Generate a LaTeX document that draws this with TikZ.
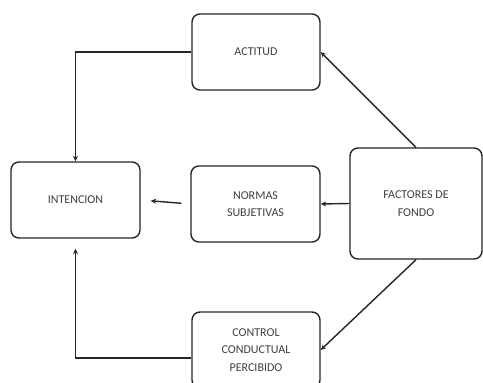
\documentclass[tikz,border=0pt]{standalone}
\usepackage{fontspec}
\setmainfont{Carlito}
\usetikzlibrary{arrows.meta}
\begin{document}
\begin{tikzpicture}[x=1pt,y=-1pt,
  box/.style={draw=black!85, line width=1.4pt, rounded corners=8pt, fill=white,
    align=center, font=\fontsize{12}{17.5}\selectfont, text=black!75,
    minimum width=128pt, minimum height=76pt, inner sep=2pt},
  arr/.style={draw=black!85, line width=1.4pt, -{Stealth[length=5.5pt,width=5pt]}}]
\useasboundingbox[fill=white] (0,0) rectangle (483,383);

% the five concepts of the model
\node[box] (actitud)   at (256,52)    {ACTITUD};
\node[box, minimum width=129pt] (intencion) at (75.5,200) {INTENCION};
\node[box, minimum width=129pt] (normas)    at (255.5,204) {NORMAS\\SUBJETIVAS};
\node[box, minimum width=132pt, minimum height=111pt] (factores) at (416,203.5) {FACTORES DE\\FONDO};
\node[box] (control)   at (256,350)   {CONTROL\\CONDUCTUAL\\PERCIBIDO};

% influences on the intention
\draw[arr] (actitud.west) -| (intencion.north);
\draw[arr, shorten <=9pt, shorten >=10pt] (normas.west) -- (intencion.east);
\draw[arr, shorten >=10pt] (control.west |- 0,358) -| (intencion.south);

% background factors feed the three determinants
\draw[arr] (factores.north) -- (actitud.east);
\draw[arr] (factores.west) -- (normas.east);
\draw[arr] (factores.south) -- (control.east);
\end{tikzpicture}
\end{document}
